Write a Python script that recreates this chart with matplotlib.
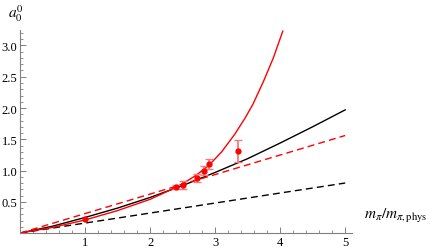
import matplotlib.pyplot as plt
from matplotlib.ticker import MultipleLocator

plt.rcParams["font.family"] = "Liberation Serif"
plt.rcParams["mathtext.fontset"] = "stix"

# curves
x_black = [0, 0.5, 1, 1.5, 2, 2.5, 3, 3.5, 4, 4.5, 5]
y_black = [0, 0.11, 0.25, 0.40, 0.57, 0.76, 0.97, 1.19, 1.44, 1.70, 1.97]

x_red = [0, 0.5, 1, 1.5, 2, 2.25, 2.5, 2.7, 2.9, 3.1, 3.3, 3.46, 3.58, 3.74, 3.89, 4.04]
y_red = [0, 0.09, 0.21, 0.36, 0.54, 0.66, 0.79, 0.92, 1.08, 1.30, 1.58, 1.84, 2.06, 2.42, 2.79, 3.23]

x_lin = [0, 5]
y_red_dash = [0, 1.56]
y_black_dash = [0, 0.80]

# lattice points
x_pts = [2.40, 2.51, 2.72, 2.82, 2.91, 3.35]
y_pts = [0.74, 0.77, 0.88, 1.00, 1.11, 1.31]
y_err = [0.03, 0.065, 0.06, 0.07, 0.08, 0.175]
x_phys = [1.0]
y_phys = [0.22]

fig = plt.figure(figsize=(4.36, 2.53), dpi=100)
ax = fig.add_axes([0.0466, 0.075, 0.760, 0.803])

ax.plot(x_black, y_black, color="black", lw=1.0)
ax.plot(x_lin, y_black_dash, color="black", lw=1.0, dashes=(5, 3))
ax.plot(x_lin, y_red_dash, color="red", lw=1.0, dashes=(5, 3))
ax.plot(x_red, y_red, color="red", lw=1.0)
ax.errorbar(x_pts, y_pts, yerr=y_err, fmt="none", ecolor="#f27c7c", elinewidth=1.3, capsize=3, capthick=1.0)
ax.plot(x_pts, y_pts, "o", color="red", ms=3.5)
ax.plot(x_phys, y_phys, "o", color="red", ms=3.5)

ax.set_xlim(0, 5.1)
ax.set_ylim(0, 3.25)
for s in ["top", "right"]:
    ax.spines[s].set_visible(False)
for s in ["left", "bottom"]:
    ax.spines[s].set_color("#808080")
    ax.spines[s].set_linewidth(0.8)

ax.xaxis.set_major_locator(MultipleLocator(1))
ax.xaxis.set_minor_locator(MultipleLocator(0.2))
ax.yaxis.set_major_locator(MultipleLocator(0.5))
ax.yaxis.set_minor_locator(MultipleLocator(0.1))
ax.set_xticks([1, 2, 3, 4, 5])
ax.set_xticklabels(["1", "2", "3", "4", "5"])
ax.set_yticks([0.5, 1.0, 1.5, 2.0, 2.5, 3.0])
ax.set_yticklabels(["0.5", "1.0", "1.5", "2.0", "2.5", "3.0"])
ax.tick_params(which="major", direction="in", length=4, width=0.7, color="#808080", labelsize=9, pad=2)
ax.tick_params(which="minor", direction="in", length=2, width=0.6, color="#808080")

fig.text(0.018, 0.945, r"$a_0^0$", fontsize=11, ha="left", va="center")
fig.text(0.836, 0.145, r"$m_\pi/m_{\pi,\mathrm{phys}}$", fontsize=11, ha="left", va="center")

fig.savefig("out.png", dpi=100)
